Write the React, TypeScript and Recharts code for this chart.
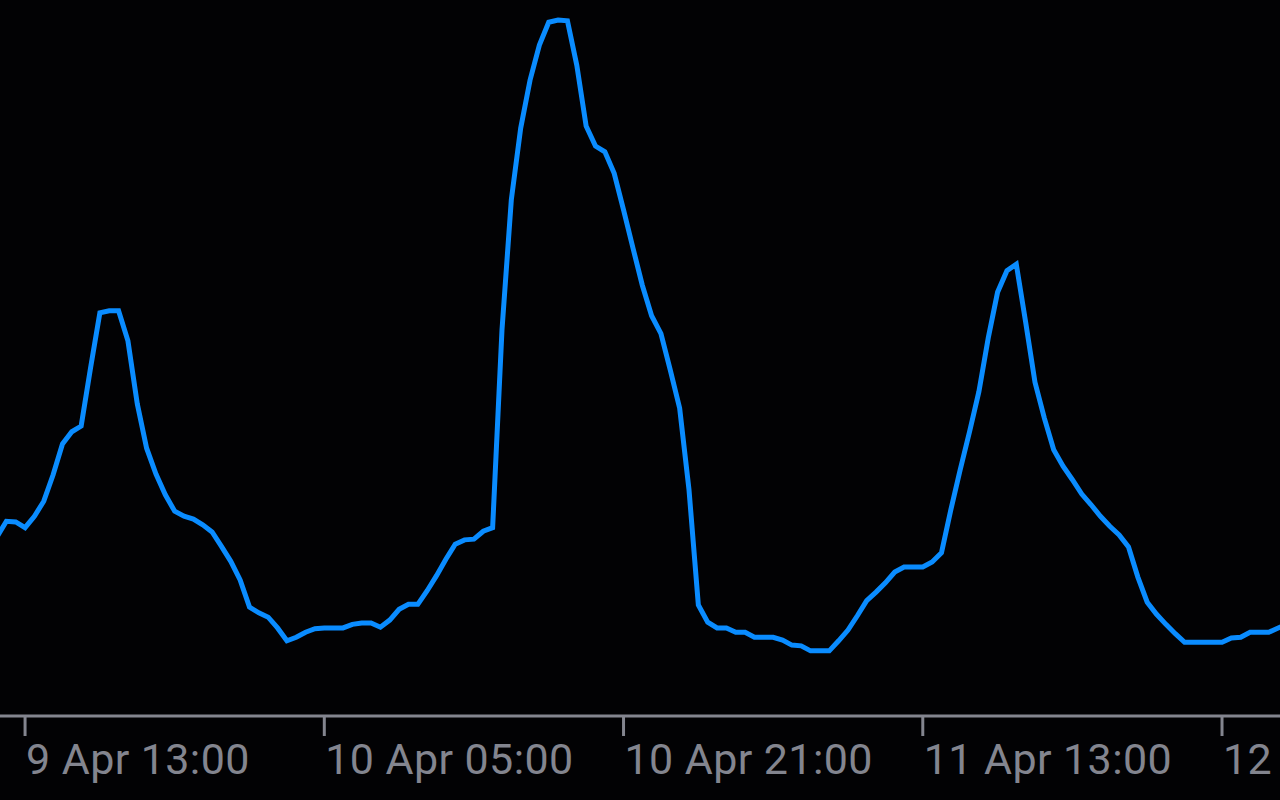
import { Line, LineChart, XAxis, YAxis } from "recharts"

// half-hourly readings, first one at 9 Apr 11:30
const apr9 = [
  25.0, 27.2, 27.1, 26.3, 27.9, 30.0, 33.7, 38.0, 39.7, 40.5, 48.6, 56.3, 56.6,
  56.6, 52.4, 43.6, 37.4, 33.8, 30.9, 28.6, 27.9, 27.5, 26.7, 25.7, 23.7,
]
const apr10 = [
  21.6, 19.0, 15.2, 14.4, 13.8, 12.3, 10.5, 11.0, 11.7, 12.2, 12.3, 12.3,
  12.3, 12.8, 13.0, 13.0, 12.4, 13.4, 14.9, 15.6, 15.6, 17.5, 19.6, 21.9,
  24.0, 24.6, 24.7, 25.8, 26.3, 53.9, 72.1, 82.1, 88.8, 93.7, 96.9, 97.2,
  97.1, 90.9, 82.4, 79.6, 78.8, 75.8, 70.7, 65.4, 60.2, 55.9, 53.4, 48.3,
]
const apr11 = [
  43.0, 31.6, 15.5, 13.1, 12.3, 12.3, 11.7, 11.7, 11.0, 11.0, 11.0, 10.6,
  9.9, 9.8, 9.1, 9.1, 9.1, 10.5, 12.0, 14.0, 16.1, 17.3, 18.6, 20.1,
  20.8, 20.8, 20.8, 21.5, 22.8, 28.8, 34.4, 39.7, 45.3, 52.8, 59.2, 62.2,
  63.1, 55.0, 46.6, 41.6, 37.2, 34.9, 33.0, 31.0, 29.5, 27.9, 26.5, 25.3,
]
const apr12 = [
  23.6, 19.4, 15.9, 14.2, 12.8, 11.5, 10.3, 10.3, 10.3, 10.3, 10.3, 10.9,
  11.0, 11.7, 11.7, 11.7, 12.3, 12.8,
]

// hours counted from 9 Apr 00:00
const START_HOUR = 11.5
const STEP_HOURS = 0.5

const tickHours = [13, 29, 45, 61, 77]
const tickLabels = ["9 Apr 13:00", "10 Apr 05:00", "10 Apr 21:00", "11 Apr 13:00", "12 Apr 05:00"]

const data = [...apr9, ...apr10, ...apr11, ...apr12].map((value, i) => ({
  hour: START_HOUR + i * STEP_HOURS,
  value,
}))

const GREY = "#83858f"

function DateTick({ x, y, payload }: any) {
  const label = tickLabels[tickHours.indexOf(payload.value)]
  return (
    <text
      x={x + 1}
      y={y}
      dy={36}
      fill={GREY}
      fontSize={43}
      fontFamily="Roboto"
      letterSpacing={0.4}
      textAnchor="start"
    >
      {label}
    </text>
  )
}

export default function App() {
  return (
    <div style={{ position: "fixed", top: 0, left: 0, width: 1280, height: 800, background: "#020204" }}>
      <LineChart width={1280} height={800} data={data} margin={{ top: 0, right: 0, left: 0, bottom: 0 }}>
        <XAxis
          dataKey="hour"
          type="number"
          domain={[11.66, 80.1]}
          allowDataOverflow
          ticks={tickHours}
          height={84}
          axisLine={{ stroke: GREY, strokeWidth: 3 }}
          tickLine={{ stroke: GREY, strokeWidth: 3 }}
          tickSize={20}
          tick={<DateTick />}
          interval={0}
        />
        <YAxis hide domain={[0, 100]} allowDataOverflow />
        <Line
          type="linear"
          dataKey="value"
          stroke="#0a8cff"
          strokeWidth={5}
          dot={false}
          isAnimationActive={false}
        />
      </LineChart>
    </div>
  )
}
